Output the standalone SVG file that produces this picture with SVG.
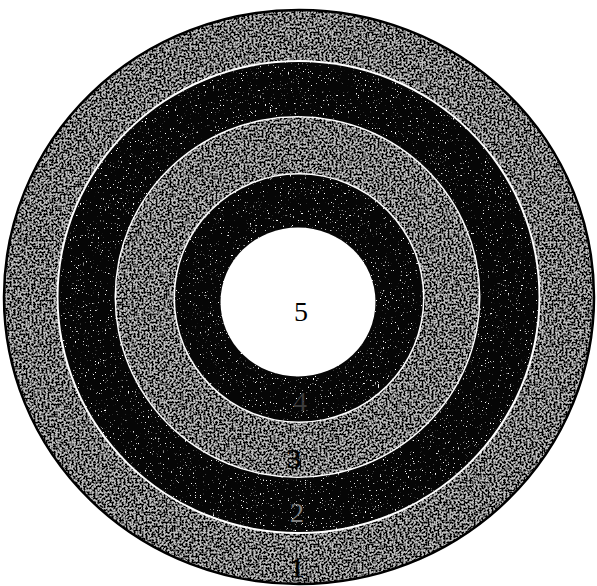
<svg xmlns="http://www.w3.org/2000/svg" width="597" height="586" viewBox="0 0 597 586">
  <defs>
    <filter id="speckLight" x="-5%" y="-5%" width="110%" height="110%" color-interpolation-filters="sRGB">
      <feTurbulence type="fractalNoise" baseFrequency="0.5" numOctaves="3" seed="4" result="n"/>
      <feColorMatrix in="n" type="matrix" values="0 0 0 0 0  0 0 0 0 0  0 0 0 0 0  8 0 0 0 -3.6" result="dots"/>
      <feComposite in="dots" in2="SourceAlpha" operator="in" result="d"/>
      <feMerge><feMergeNode in="SourceGraphic"/><feMergeNode in="d"/></feMerge>
    </filter>
    <filter id="speckDark" x="-5%" y="-5%" width="110%" height="110%" color-interpolation-filters="sRGB">
      <feTurbulence type="fractalNoise" baseFrequency="0.6" numOctaves="2" seed="9" result="n"/>
      <feColorMatrix in="n" type="matrix" values="0 0 0 0 1  0 0 0 0 1  0 0 0 0 1  10 0 0 0 -6.8" result="dots"/>
      <feComposite in="dots" in2="SourceAlpha" operator="in" result="d"/>
      <feMerge><feMergeNode in="SourceGraphic"/><feMergeNode in="d"/></feMerge>
    </filter>
  </defs>
  <style>
    .light { fill: #bdbdbd; filter: url(#speckLight); }
    .dark { fill: #060606; filter: url(#speckDark); }
    text { font-family: 'Liberation Serif', 'Times New Roman', serif; font-size: 28px; text-anchor: middle; }
    .onlight { fill: #000; stroke: #000; stroke-width: 0.6px; }
  </style>
  <rect width="597" height="586" fill="#ffffff"/>
  <g id="ring1">
    <ellipse class="light" cx="299" cy="297" rx="295" ry="287"/>
    <ellipse cx="299" cy="297" rx="295" ry="287" fill="none" stroke="#000" stroke-width="2.5"/>
  </g>
  <g id="ring2">
    <ellipse cx="298.5" cy="297" rx="242" ry="237" fill="#fff"/>
    <ellipse class="dark" cx="298.5" cy="297" rx="240" ry="235"/>
  </g>
  <g id="ring3">
    <ellipse cx="297.5" cy="297" rx="183" ry="181" fill="#fff"/>
    <ellipse class="light" cx="297.5" cy="297" rx="181.5" ry="179.5"/>
  </g>
  <g id="ring4">
    <ellipse cx="299" cy="298" rx="125.5" ry="125" fill="#fff"/>
    <ellipse class="dark" cx="299" cy="298" rx="124" ry="123.5"/>
  </g>
  <g id="ring5">
    <ellipse cx="298" cy="302" rx="77.5" ry="74.5" fill="#ffffff"/>
  </g>
  <g id="labels">
    <text class="onlight" x="297" y="577" font-family="Liberation Serif, serif">1</text>
    <text x="297" y="522" fill="#808080" font-family="Liberation Serif, serif">2</text>
    <text class="onlight" x="294" y="468" font-family="Liberation Serif, serif">3</text>
    <text x="300" y="411" fill="#3c3c3c" font-family="Liberation Serif, serif">4</text>
    <text x="301" y="321" fill="#000" font-family="Liberation Serif, serif">5</text>
  </g>
</svg>
